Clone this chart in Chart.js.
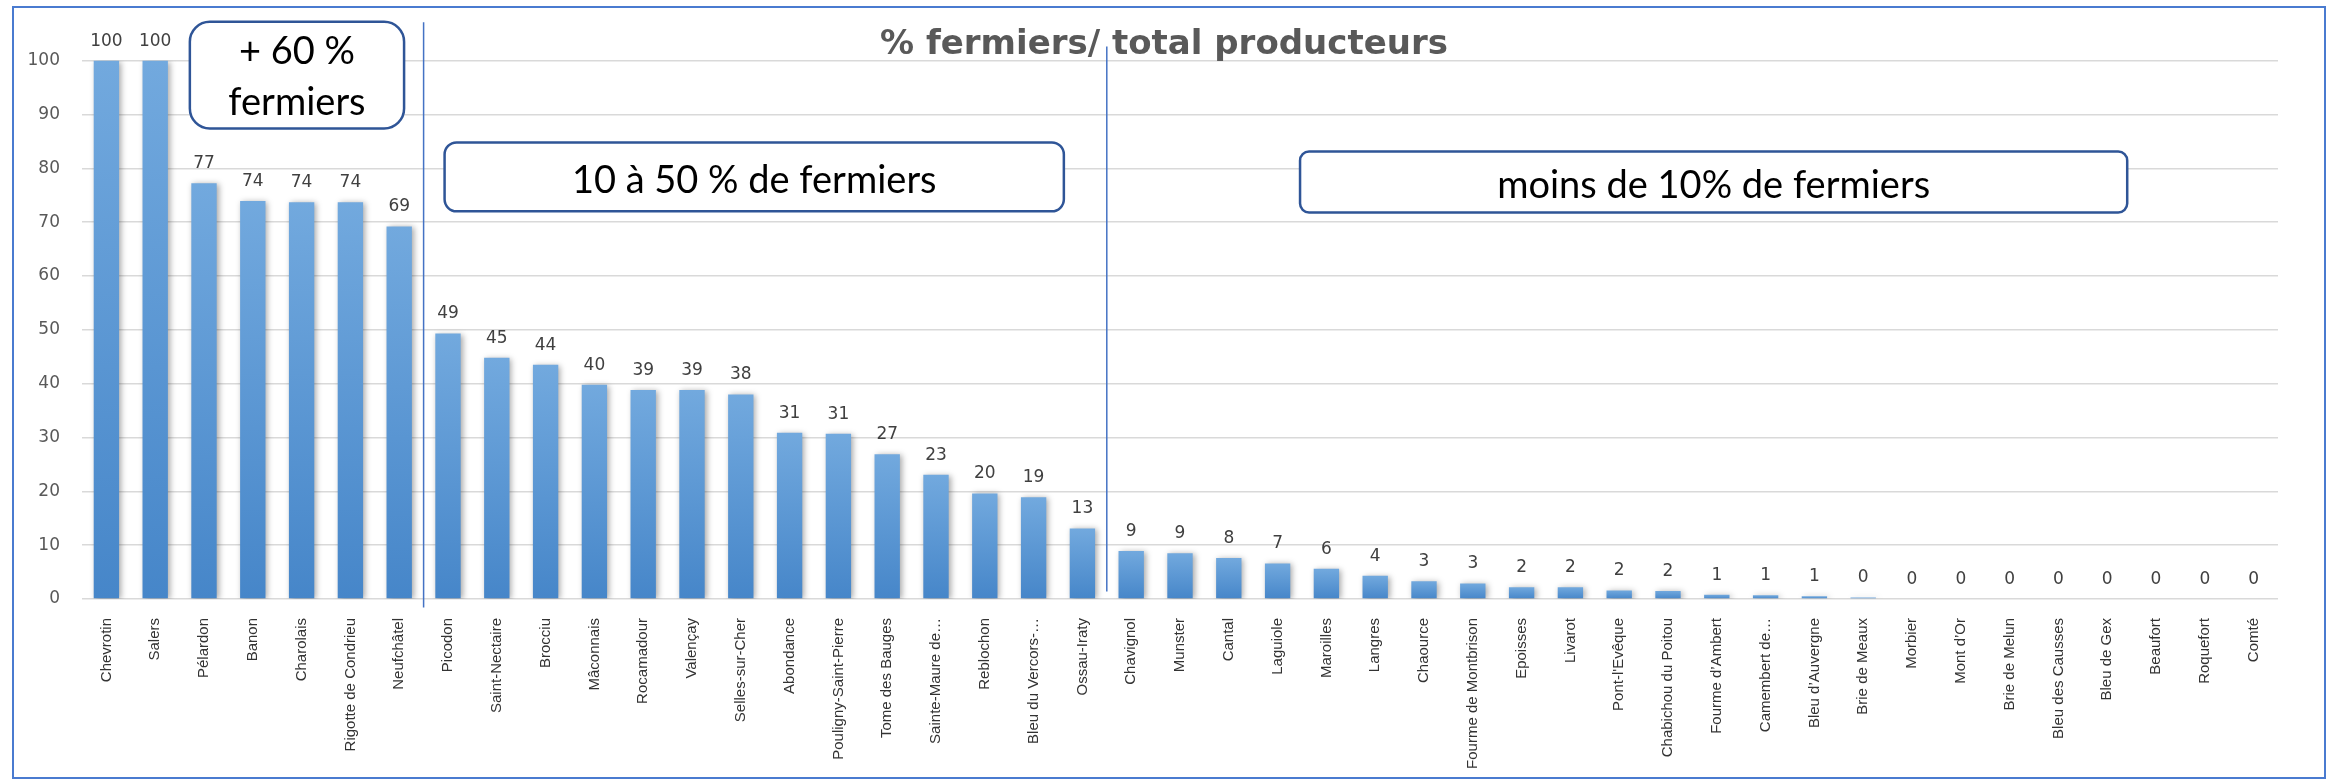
<!DOCTYPE html>
<html lang="fr">
<head>
<meta charset="utf-8">
<title>% fermiers/ total producteurs</title>
<script src="https://cdn.jsdelivr.net/npm/chart.js@4.4.1/dist/chart.umd.min.js"></script>
<style>
  html, body { margin: 0; padding: 0; background: #fff; }
  #wrap { position: relative; width: 2328px; height: 779px; }
  #frame {
    position: absolute; left: 12px; top: 6px; width: 2314px; height: 773px;
    border: 2px solid #4a7bd0; box-sizing: border-box; pointer-events: none;
  }
</style>
</head>
<body>
<div id="wrap">
  <canvas id="chart" width="2328" height="779"></canvas>
  <div id="frame"></div>
</div>
<script>
// AOP fromages : part des producteurs fermiers (%)
const fromages = [
  "Chevrotin", "Salers", "Pélardon", "Banon", "Charolais", "Rigotte de Condrieu", "Neufchâtel",
  "Picodon", "Saint-Nectaire", "Brocciu", "Mâconnais", "Rocamadour", "Valençay", "Selles-sur-Cher",
  "Abondance", "Pouligny-Saint-Pierre", "Tome des Bauges", "Sainte-Maure de…", "Reblochon",
  "Bleu du Vercors-…", "Ossau-Iraty",
  "Chavignol", "Munster", "Cantal", "Laguiole", "Maroilles", "Langres", "Chaource",
  "Fourme de Montbrison", "Epoisses", "Livarot", "Pont-l'Evêque", "Chabichou du Poitou",
  "Fourme d’Ambert", "Camembert de…", "Bleu d’Auvergne", "Brie de Meaux", "Morbier", "Mont d’Or",
  "Brie de Melun", "Bleu des Causses", "Bleu de Gex", "Beaufort", "Roquefort", "Comté"
];

const pctFermiers = [
  100, 100, 77.2, 73.9, 73.7, 73.7, 69.2,
  49.3, 44.8, 43.5, 39.8, 38.8, 38.8, 38.0, 30.9, 30.7, 26.9, 23.1, 19.6, 18.9, 13.1,
  8.9, 8.5, 7.6, 6.6, 5.6, 4.3, 3.3, 2.9, 2.2, 2.2, 1.6, 1.5, 0.8, 0.7, 0.5, 0.3,
  0, 0, 0, 0, 0, 0, 0, 0
];

const yMin = 0;
const yMax = 100;
const yStep = 10;

const titre = "% fermiers/ total producteurs";
const texteGroupes = [
  ["+ 60 %", "fermiers"],
  ["10 à 50 % de fermiers"],
  ["moins de 10% de fermiers"]
];

// placement des encadrés en unités du graphique (index catégorie / valeur)
const encadres = [
  { x0: 1.71, x1: 6.1, y0: 107.2, y1: 87.4, rayon: 20, bases: [-11, 40] },
  { x0: 6.93, x1: 19.62, y0: 84.8, y1: 72.0, rayon: 12, bases: [16] },
  { x0: 24.46, x1: 41.41, y0: 83.1, y1: 71.8, rayon: 9, bases: [16] }
];
// séparateurs entre groupes : après l'index 6 et l'index 20
const separateurs = [
  { apres: 6, haut: 107.1, bas: -1.6 },
  { apres: 20, haut: 102.6, bas: 1.4 }
];

function barGradient(context) {
  const chart = context.chart;
  const y = chart.scales.y;
  if (!y || context.dataIndex === undefined) return "#5b9bd5";
  const top = y.getPixelForValue(pctFermiers[context.dataIndex]);
  const bottom = y.getPixelForValue(0);
  if (!Number.isFinite(top) || !Number.isFinite(bottom) || bottom - top < 1) return "#5b9bd5";
  const g = chart.ctx.createLinearGradient(0, top, 0, bottom);
  g.addColorStop(0, "#72a9de");
  g.addColorStop(1, "#4686c9");
  return g;
}

const decorPlugin = {
  id: "decor",
  beforeDatasetsDraw(chart) {
    const ctx = chart.ctx;
    ctx.save();
    ctx.shadowColor = "rgba(0,0,0,0.35)";
    ctx.shadowBlur = 6;
    ctx.shadowOffsetX = 2;
    ctx.shadowOffsetY = 1;
  },
  afterDatasetsDraw(chart) {
    const ctx = chart.ctx;
    ctx.restore();

    // valeurs au-dessus des barres
    const meta = chart.getDatasetMeta(0);
    ctx.save();
    ctx.fillStyle = "#404040";
    ctx.font = "17px 'DejaVu Sans'";
    ctx.textAlign = "center";
    ctx.textBaseline = "bottom";
    meta.data.forEach((bar, i) => {
      ctx.fillText(String(Math.round(pctFermiers[i])), bar.x, bar.y - 11);
    });
    ctx.restore();
  },
  afterDraw(chart) {
    const ctx = chart.ctx;
    const x = chart.scales.x;
    const y = chart.scales.y;

    ctx.save();
    ctx.strokeStyle = "#4472c4";
    ctx.lineWidth = 1.5;
    separateurs.forEach(s => {
      const px = (x.getPixelForValue(s.apres) + x.getPixelForValue(s.apres + 1)) / 2;
      ctx.beginPath();
      ctx.moveTo(px, y.getPixelForValue(s.haut));
      ctx.lineTo(px, y.getPixelForValue(s.bas));
      ctx.stroke();
    });

    encadres.forEach((b, k) => {
      const left = x.getPixelForValue(b.x0);
      const right = x.getPixelForValue(b.x1);
      const top = y.getPixelForValue(b.y0);
      const bottom = y.getPixelForValue(b.y1);
      ctx.beginPath();
      ctx.roundRect(left, top, right - left, bottom - top, b.rayon);
      ctx.fillStyle = "#ffffff";
      ctx.fill();
      ctx.lineWidth = 2.5;
      ctx.strokeStyle = "#2f5597";
      ctx.stroke();

      ctx.fillStyle = "#000000";
      ctx.font = "38px Lato";
      ctx.textAlign = "center";
      ctx.textBaseline = "alphabetic";
      const cx = (left + right) / 2;
      const cy = (top + bottom) / 2;
      texteGroupes[k].forEach((ligne, j) => {
        ctx.fillText(ligne, cx, cy + b.bases[j]);
      });
    });
    ctx.restore();
  }
};

new Chart(document.getElementById("chart"), {
  type: "bar",
  data: {
    labels: fromages,
    datasets: [{
      label: titre,
      data: pctFermiers,
      backgroundColor: barGradient,
      borderWidth: 0,
      barPercentage: 0.52,
      categoryPercentage: 1
    }]
  },
  options: {
    responsive: false,
    animation: false,
    devicePixelRatio: 1,
    layout: { padding: 0 },
    plugins: {
      legend: { display: false },
      tooltip: { enabled: false },
      title: {
        display: true,
        text: titre,
        color: "#595959",
        font: { family: "'DejaVu Sans'", size: 34, weight: "bold", lineHeight: 0.9 },
        padding: { top: 30, bottom: 0 }
      }
    },
    scales: {
      x: {
        grid: { display: false },
        border: { display: false },
        ticks: {
          color: "#333333",
          font: { family: "'Liberation Sans'", size: 15 },
          minRotation: 90,
          maxRotation: 90,
          autoSkip: false,
          padding: 11
        },
        afterFit(scale) { scale.height = 180; }
      },
      y: {
        min: yMin,
        max: yMax,
        border: { display: false },
        grid: { color: "#d9d9d9", lineWidth: 1.5, drawTicks: false },
        ticks: {
          stepSize: yStep,
          color: "#595959",
          font: { family: "'DejaVu Sans'", size: 17 },
          padding: 22
        },
        afterFit(scale) { scale.width = 82; }
      },
      // axe vide à droite : simple marge, garde le titre centré sur la page
      marge: {
        position: "right",
        display: true,
        min: yMin,
        max: yMax,
        border: { display: false },
        grid: { display: false },
        ticks: { display: false },
        afterFit(scale) { scale.width = 50; }
      }
    }
  },
  plugins: [decorPlugin]
});
</script>
</body>
</html>
